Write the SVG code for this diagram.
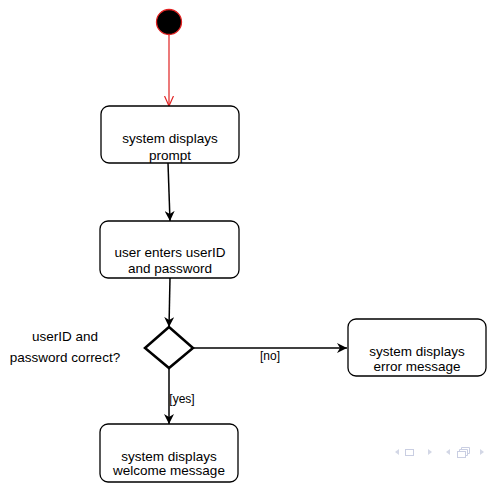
<svg xmlns="http://www.w3.org/2000/svg" width="494" height="487" viewBox="0 0 494 487">
<defs>
<marker id="ah" viewBox="0 0 10 10" refX="10" refY="5" markerWidth="10" markerHeight="10" markerUnits="userSpaceOnUse" orient="auto">
<path d="M0,0 L10,5 L0,10 L3,5 Z" fill="#000"/>
</marker>
<marker id="open" viewBox="0 0 10 10" refX="10" refY="5" markerWidth="10" markerHeight="10" markerUnits="userSpaceOnUse" orient="auto">
<path d="M0,0.5 L10,5 L0,9.5" fill="none" stroke="#e02020" stroke-width="1.2"/>
</marker>
</defs>
<style>
.box{fill:#fff;stroke:#000;stroke-width:1.3}
.t{font-family:"Liberation Sans",Arial,sans-serif;font-size:13.5px;fill:#000;text-anchor:middle}
.lbl{font-family:"Liberation Sans",Arial,sans-serif;font-size:12px;fill:#000;text-anchor:middle}
.e{fill:none;stroke:#000;stroke-width:1.5}
.nav{fill:#d3d7e6;stroke:none}
.navs{fill:none;stroke:#c9cee2;stroke-width:1}
</style>
<rect width="494" height="487" fill="#fff"/>
<g id="edges">
<line x1="169" y1="35" x2="169" y2="106" stroke="#e02020" stroke-width="1.2" marker-end="url(#open)"/>
<line class="e" x1="168" y1="163" x2="170" y2="221" marker-end="url(#ah)"/>
<line class="e" x1="170" y1="278" x2="169" y2="327" marker-end="url(#ah)"/>
<line class="e" x1="193" y1="348" x2="347" y2="348" marker-end="url(#ah)"/>
<text class="lbl" x="270" y="360">[no]</text>
<line class="e" x1="169" y1="368" x2="169" y2="424" marker-end="url(#ah)"/>
<text class="lbl" x="182" y="403">[yes]</text>
</g>
<g id="start">
<circle cx="169" cy="22" r="12.5" fill="#000" stroke="#e02020" stroke-width="1.3"/>
</g>
<g id="prompt">
<rect class="box" x="101" y="106" width="138" height="57" rx="8"/>
<text class="t" x="170" y="143">system displays</text>
<text class="t" x="170" y="160">prompt</text>
</g>
<g id="enter">
<rect class="box" x="100" y="221" width="139" height="57" rx="8"/>
<text class="t" x="170" y="257">user enters userID</text>
<text class="t" x="170" y="273">and password</text>
</g>
<g id="decision">
<path d="M169,327 L193,348 L169,368 L145,348 Z" fill="#fff" stroke="#000" stroke-width="2.5"/>
<text class="t" x="65" y="341">userID and</text>
<text class="t" x="65" y="362">password correct?</text>
</g>
<g id="error">
<rect class="box" x="348" y="319" width="138" height="57" rx="8"/>
<text class="t" x="417" y="356">system displays</text>
<text class="t" x="417" y="371">error message</text>
</g>
<g id="welcome">
<rect class="box" x="100" y="424" width="138" height="58" rx="8"/>
<text class="t" x="169" y="461">system displays</text>
<text class="t" x="169" y="475">welcome message</text>
</g>
<g id="navigation">
<path class="nav" d="M395,452 L399,449 L399,455 Z"/>
<rect class="navs" x="405.5" y="449.5" width="8" height="6"/>
<path class="nav" d="M428,449 L432,452 L428,455 Z"/>
<path class="nav" d="M446,452 L450,449 L450,455 Z"/>
<rect class="navs" x="457.5" y="451.5" width="8" height="6"/>
<path class="navs" d="M459.5,451.5 V449.5 H467.5 V455.5 H465.5 M461.5,449.5 V447.5 H469.5 V453.5 H467.5"/>
<path class="nav" d="M480,449 L484,452 L480,455 Z"/>
</g>
</svg>
